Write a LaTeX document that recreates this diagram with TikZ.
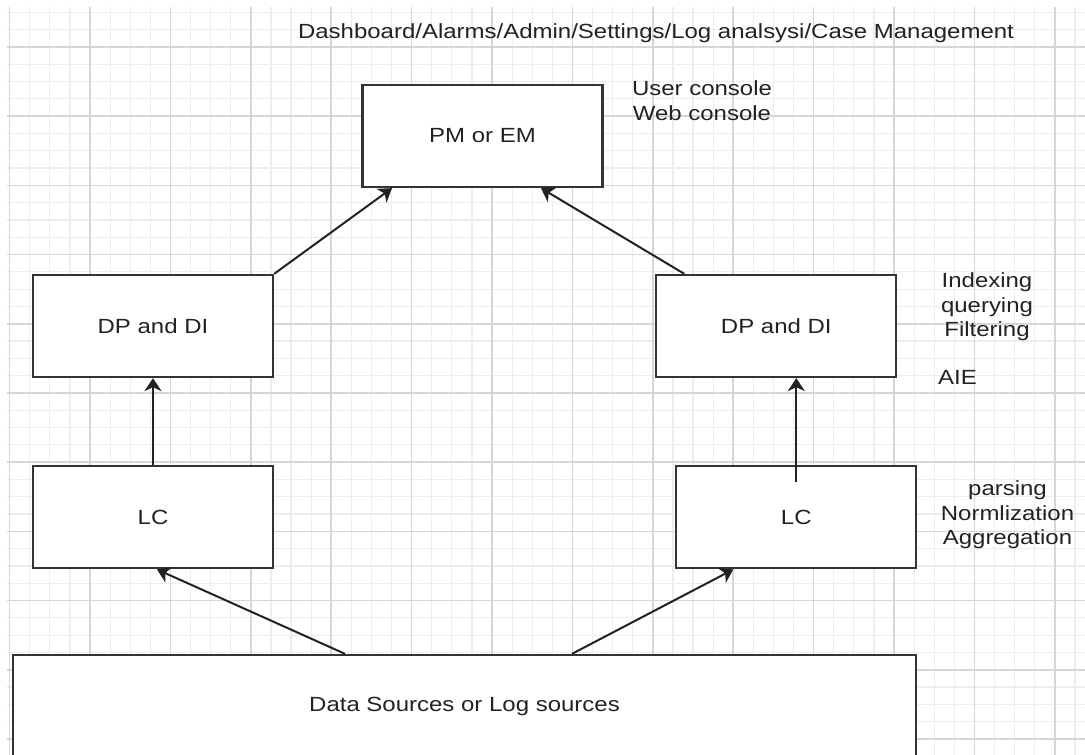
\documentclass[tikz,border=0pt]{standalone}
\usepackage{fontspec}
\setmainfont{Liberation Sans}[FakeStretch=1.17]
\usetikzlibrary{positioning, arrows.meta}
\definecolor{gridminor}{HTML}{EDEDED}
\definecolor{gridmajor}{HTML}{D6D6D6}
\definecolor{boxline}{HTML}{333333}
\definecolor{inkline}{HTML}{222222}
\definecolor{labeltext}{HTML}{222222}
\newcommand{\diagfont}{\fontsize{20.5pt}{24.5pt}\selectfont}
\tikzset{
	x=1pt, y=1pt,
	>={Stealth[length=13pt,width=17pt,inset=4pt]},
	every node/.style={font=\diagfont, text=labeltext},
	minorline/.style={draw=gridminor, line width=1.2pt},
	majorline/.style={draw=gridmajor, line width=1.5pt},
	box/.style={draw=boxline, line width=2.3pt, fill=white, minimum width=240pt, minimum height=102pt, inner sep=0pt},
	link/.style={->, draw=inkline, line width=2pt},
	note/.style={align=center, inner sep=0pt}}

\begin{document}
\begin{tikzpicture}
	\useasboundingbox (0,0) rectangle (1085,755);
	\clip (0,0) rectangle (1085,755);

	% grid
	\foreach \i in {0,...,53}
		\draw[minorline] ({9.6+20.1*\i},0) -- ({9.6+20.1*\i},748);
	\foreach \j in {0,...,42}
		\draw[minorline] (7,{742.6-17.3*\j}) -- (1085,{742.6-17.3*\j});
	\foreach \i in {0,4,...,52}
		\draw[majorline] ({9.6+20.1*\i},0) -- ({9.6+20.1*\i},748);
	\foreach \j in {2,6,...,42}
		\draw[majorline] (7,{742.6-17.3*\j}) -- (1085,{742.6-17.3*\j});

	% boxes
	\node[box] (pm) at (482.5,619) {PM or EM};
	\node[box] (dpl) at (153,429) {DP and DI};
	\node[box, right=381pt of dpl] (dpr) {DP and DI};
	\node[box, below=87pt of dpl] (lcl) {LC};
	\node[box, right=401pt of lcl] (lcr) {LC};
	\node[box, minimum width=903pt] (src) at (464.5,49) {Data Sources or Log sources};

	% arrows
	\draw[link] ([xshift=-119.5pt]src.north) -- ([xshift=4pt]lcl.south);
	\draw[link] ([xshift=107.5pt]src.north) -- ([xshift=-63pt]lcr.south);
	\draw[link] (lcl.north) -- (dpl.south);
	\draw[link] ([yshift=-17pt]lcr.north) -- (lcr.north |- dpr.south);
	\draw[link] (dpl.north east) -- ([xshift=-90.5pt]pm.south);
	\draw[link] ([xshift=-92pt]dpr.north) -- ([xshift=58.5pt]pm.south);

	% side notes
	\node[note] (menu) at (656,722) {Dashboard/Alarms/Admin/Settings/Log analsysi/Case Management};
	\node[note] (console) at (702,654.5) {User console\\Web console};
	\node[note] (dpnote) at (987,448) {Indexing\\querying\\Filtering};
	\node[note, anchor=west] (aie) at (938,378) {AIE};
	\node[note] (lcnote) at (1007.5,240) {parsing\\Normlization\\Aggregation};
\end{tikzpicture}
\end{document}
